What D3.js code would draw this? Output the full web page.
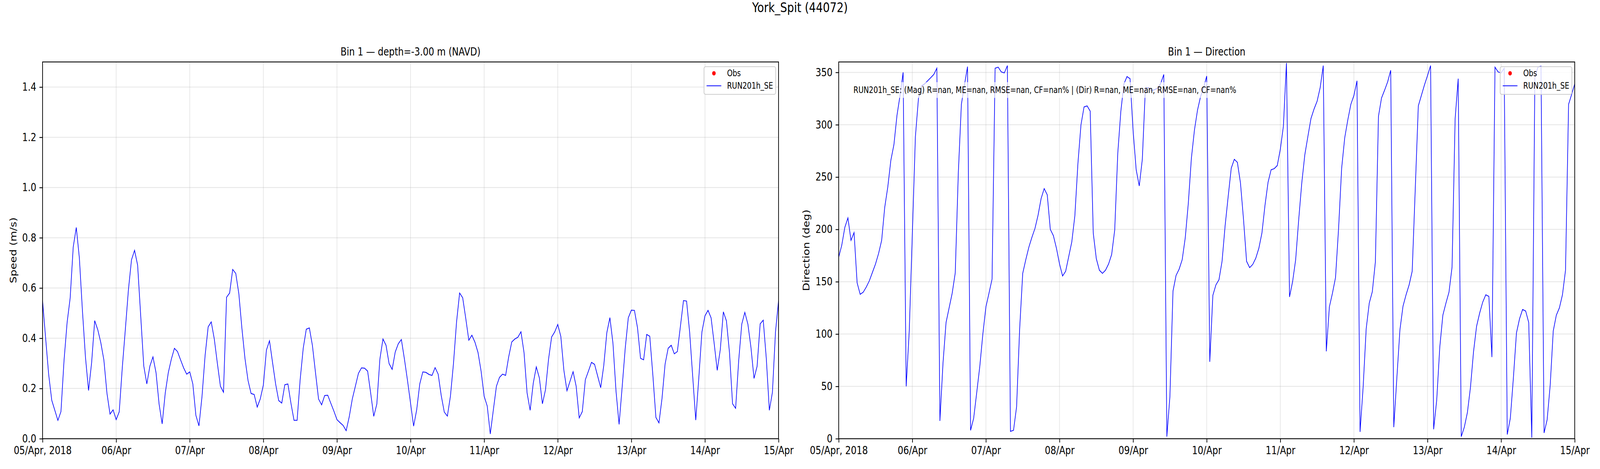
<!DOCTYPE html>
<html>
<head>
<meta charset="utf-8">
<script src="https://cdn.jsdelivr.net/npm/d3@7"></script>
<style>
  html, body { margin: 0; padding: 0; background: #fff; overflow: hidden; }
  #fig { display: block; width: 100vw; height: 100vh; }
  svg text { font-family: "DejaVu Sans", sans-serif; fill: #000; }
</style>
</head>
<body>
<svg id="fig" viewBox="0 0 5000 1200" preserveAspectRatio="none"></svg>
<script>
// ── Data ──────────────────────────────────────────────────────────────────────
// Model run RUN201h_SE at York Spit (44072), bin 1, hourly samples from START_UTC
const START_UTC  = "2018-04-05T00:00:00Z";
const END_UTC    = "2018-04-15T00:00:00Z";
const STEP_HOURS = 1;

// current speed (m/s)
const speed = [
  0.55, 0.40, 0.255, 0.153, 0.113, 0.073, 0.108, 0.311, 0.462, 0.560,
  0.763, 0.841, 0.720, 0.510, 0.323, 0.192, 0.303, 0.470, 0.434, 0.382,
  0.313, 0.181, 0.098, 0.115, 0.076, 0.107, 0.283, 0.436, 0.593, 0.712,
  0.750, 0.691, 0.490, 0.290, 0.218, 0.289, 0.326, 0.263, 0.138, 0.059,
  0.181, 0.263, 0.317, 0.360, 0.347, 0.314, 0.282, 0.257, 0.266, 0.218,
  0.093, 0.051, 0.169, 0.331, 0.445, 0.465, 0.397, 0.300, 0.209, 0.185,
  0.563, 0.580, 0.674, 0.658, 0.578, 0.440, 0.320, 0.232, 0.180, 0.176,
  0.126, 0.159, 0.214, 0.353, 0.390, 0.303, 0.218, 0.152, 0.142, 0.215,
  0.218, 0.141, 0.073, 0.073, 0.235, 0.360, 0.436, 0.441, 0.371, 0.263,
  0.158, 0.135, 0.172, 0.173, 0.141, 0.110, 0.076, 0.064, 0.053, 0.032,
  0.087, 0.158, 0.209, 0.260, 0.282, 0.281, 0.269, 0.181, 0.089, 0.138,
  0.317, 0.397, 0.372, 0.299, 0.276, 0.345, 0.378, 0.395, 0.317, 0.232,
  0.141, 0.050, 0.115, 0.218, 0.266, 0.264, 0.256, 0.252, 0.283, 0.257,
  0.172, 0.106, 0.090, 0.169, 0.300, 0.465, 0.580, 0.561, 0.479, 0.392,
  0.412, 0.384, 0.343, 0.269, 0.169, 0.130, 0.019, 0.115, 0.209, 0.244,
  0.257, 0.252, 0.326, 0.385, 0.397, 0.404, 0.426, 0.343, 0.182, 0.113,
  0.220, 0.286, 0.242, 0.139, 0.195, 0.317, 0.405, 0.425, 0.455, 0.407,
  0.272, 0.191, 0.229, 0.267, 0.209, 0.083, 0.108, 0.235, 0.269, 0.304,
  0.296, 0.250, 0.203, 0.291, 0.422, 0.482, 0.380, 0.189, 0.057, 0.206,
  0.360, 0.481, 0.512, 0.511, 0.442, 0.320, 0.314, 0.415, 0.408, 0.255,
  0.085, 0.063, 0.161, 0.297, 0.360, 0.372, 0.338, 0.347, 0.448, 0.550,
  0.548, 0.425, 0.249, 0.074, 0.243, 0.424, 0.489, 0.511, 0.481, 0.380,
  0.272, 0.355, 0.505, 0.469, 0.343, 0.139, 0.121, 0.311, 0.456, 0.503,
  0.456, 0.363, 0.240, 0.288, 0.457, 0.472, 0.320, 0.113, 0.185, 0.425,
  0.550
];

// current direction (deg)
const direction = [
  173.5, 185, 202, 211, 189.5, 197, 149, 138, 140, 145,
  151, 159, 167, 177, 189.5, 221, 240.5, 266, 281, 309,
  328, 350, 50, 103, 195, 288.5, 325, 337, 339, 342,
  345, 348, 354, 17, 72, 111, 125, 139, 158.5, 254,
  319.5, 338, 355.5, 8, 19.5, 44, 69, 100, 126, 139,
  152.5, 354, 355, 350.5, 349.5, 356.5, 7, 8, 30.5, 105,
  158, 171, 183, 192.5, 201, 213.5, 229.5, 239, 233, 200,
  194, 182, 167, 155.5, 160, 174, 188, 213, 263, 300,
  317, 318, 313, 196.5, 172, 161, 158, 161, 167, 176,
  199.5, 273, 313, 339, 346, 344, 294, 257, 241.5, 267,
  335, 335.5, 332.5, 333.5, 335, 339.5, 348, 2, 40.5, 141,
  156, 162, 171, 192, 225, 268, 295, 314, 327, 335.5,
  346.5, 73.5, 137, 147, 152, 169.5, 203.5, 231.5, 258.5, 267,
  264, 244.5, 209.5, 169.5, 163.5, 166.5, 172.5, 182, 196.5, 223,
  245, 257, 258, 261, 276.5, 298.5, 359, 135.5, 150, 171,
  209.5, 244.5, 271.5, 289, 306, 315, 322.5, 335.5, 356.5, 83.5,
  126, 139, 154, 201, 258.5, 287.5, 304.5, 319.5, 328, 342,
  6.5, 49, 105, 129.5, 140.5, 169, 308, 325.5, 333, 341,
  352, 11, 58, 104, 126.5, 137.5, 147, 160, 238.5, 318,
  328, 338, 347, 356.5, 9, 37, 87.5, 118, 129.5, 140,
  164, 305.5, 344, 2, 11, 25, 49, 83, 107.5, 120,
  130.5, 137.5, 136, 78, 355, 350.5, 349.5, 354, 4, 19.5,
  58, 101, 114.5, 123.5, 122, 111, 1, 345, 355, 356,
  5.5, 18, 51, 103, 118, 125, 137.5, 161, 319.5, 329,
  339
];

const obs = [];   // no observations in this window (legend entry only)

const speedTicks = [0, 0.2, 0.4, 0.6, 0.8, 1.0, 1.2, 1.4];
const dirTicks   = [0, 50, 100, 150, 200, 250, 300, 350];

const suptitle   = "York_Spit (44072)";
const speedTitle = "Bin 1 — depth=-3.00 m (NAVD)";
const dirTitle   = "Bin 1 — Direction";
const statsText  = "RUN201h_SE: (Mag) R=nan, ME=nan, RMSE=nan, CF=nan% | (Dir) R=nan, ME=nan, RMSE=nan, CF=nan%";
const legendLabels = ["Obs", "RUN201h_SE"];

// ── Figure ────────────────────────────────────────────────────────────────────
const FS_TICK = 27.8, FS_SMALL = 22.2;
const TOP = 158.5, BOTTOM = 1122.5;
const t0 = new Date(START_UTC), t1 = new Date(END_UTC);
const times = speed.map((_, i) => d3.utcHour.offset(t0, i * STEP_HOURS));

const svg = d3.select("#fig");
svg.append("rect").attr("width", 5000).attr("height", 1200).attr("fill", "#fff");

svg.append("text")
  .attr("x", 2500).attr("y", 31)
  .attr("text-anchor", "middle").attr("font-size", 34)
  .text(suptitle);

function drawPanel(opt) {
  const W = opt.right - opt.left, H = BOTTOM - TOP;
  const g = svg.append("g").attr("transform", `translate(${opt.left},${TOP})`);

  const x = d3.scaleUtc().domain([t0, t1]).range([0, W]);
  const y = d3.scaleLinear().domain(opt.yDomain).range([H, 0]);
  const days = d3.utcDay.range(t0, d3.utcDay.offset(t1, 1));

  // Grid
  const grid = g.append("g").attr("stroke", "#b0b0b0").attr("stroke-opacity", 0.3).attr("stroke-width", 2.2);
  grid.selectAll("line.gx").data(days).join("line")
    .attr("x1", d => x(d)).attr("x2", d => x(d)).attr("y1", 0).attr("y2", H);
  grid.selectAll("line.gy").data(opt.yTicks).join("line")
    .attr("x1", 0).attr("x2", W).attr("y1", d => y(d)).attr("y2", d => y(d));

  // Axes
  const fmtDay = d3.utcFormat("%d/%b");
  const ax = g.append("g").attr("transform", `translate(0,${H})`)
    .call(d3.axisBottom(x).tickValues(days).tickSize(9.7).tickPadding(9.7).tickSizeOuter(0)
      .tickFormat((d, i) => i === 0 ? fmtDay(d) + ", " + d.getUTCFullYear() : fmtDay(d)));
  const ay = g.append("g")
    .call(d3.axisLeft(y).tickValues(opt.yTicks).tickSize(9.7).tickPadding(9.7).tickSizeOuter(0)
      .tickFormat(opt.yFormat));
  [ax, ay].forEach(a => {
    a.select(".domain").remove();
    a.attr("font-family", null).attr("font-size", FS_TICK);
    a.selectAll(".tick line").attr("stroke", "#000").attr("stroke-width", 2.2);
  });

  // Series
  const clipId = "clip-" + opt.id;
  g.append("clipPath").attr("id", clipId).append("rect").attr("width", W).attr("height", H);
  g.append("path")
    .datum(opt.values)
    .attr("clip-path", `url(#${clipId})`)
    .attr("fill", "none").attr("stroke", "#0000ff").attr("stroke-width", 2)
    .attr("d", d3.line().x((d, i) => x(times[i])).y(d => y(d)));
  g.append("g").selectAll("circle").data(obs).join("circle")
    .attr("cx", d => x(d.t)).attr("cy", d => y(d.v)).attr("r", 5).attr("fill", "#ff0000");

  // Spines
  g.append("rect").attr("width", W).attr("height", H)
    .attr("fill", "none").attr("stroke", "#000").attr("stroke-width", 2.2);

  // Titles
  g.append("text").attr("x", W / 2).attr("y", -16.5)
    .attr("text-anchor", "middle").attr("font-size", FS_TICK).text(opt.title);
  svg.append("text")
    .attr("transform", `translate(${opt.ylabelX},${TOP + H / 2}) rotate(-90)`)
    .attr("text-anchor", "middle").attr("dy", "0.35em")
    .attr("font-size", FS_TICK).text(opt.ylabel);

  // Stats box
  if (opt.stats) {
    const st = g.append("g");
    const box = st.append("rect").attr("fill", "#fff").attr("opacity", 0.7);
    const txt = st.append("text").attr("x", 46).attr("y", 79.5)
      .attr("font-size", FS_SMALL).text(opt.stats);
    const bb = txt.node().getBBox();
    box.attr("x", bb.x - 7).attr("y", bb.y - 7).attr("width", bb.width + 14).attr("height", bb.height + 14);
  }

  // Legend
  const lw = 224, lh = 71;
  const lg = g.append("g").attr("transform", `translate(${W - 9 - lw},12)`);
  lg.append("rect").attr("width", lw).attr("height", lh).attr("rx", 5)
    .attr("fill", "#fff").attr("fill-opacity", 0.8)
    .attr("stroke", "#cccccc").attr("stroke-width", 2.2);
  lg.append("circle").attr("cx", 31).attr("cy", 17).attr("r", 5.5).attr("fill", "#ff0000");
  lg.append("line").attr("x1", 8).attr("x2", 54).attr("y1", 49).attr("y2", 49)
    .attr("stroke", "#0000ff").attr("stroke-width", 2);
  lg.selectAll("text.leg").data(legendLabels).join("text")
    .attr("x", 72).attr("y", (d, i) => 17 + i * 32).attr("dy", "0.35em")
    .attr("font-size", FS_SMALL).text(d => d);
}

drawPanel({
  id: "speed", left: 133, right: 2433, values: speed,
  yDomain: [0, 1.5], yTicks: speedTicks, yFormat: d3.format(".1f"),
  title: speedTitle, ylabel: "Speed (m/s)", ylabelX: 41
});

drawPanel({
  id: "dir", left: 2621, right: 4921, values: direction,
  yDomain: [0, 360], yTicks: dirTicks, yFormat: d3.format("d"),
  title: dirTitle, ylabel: "Direction (deg)", ylabelX: 2520, stats: statsText
});
</script>
</body>
</html>
